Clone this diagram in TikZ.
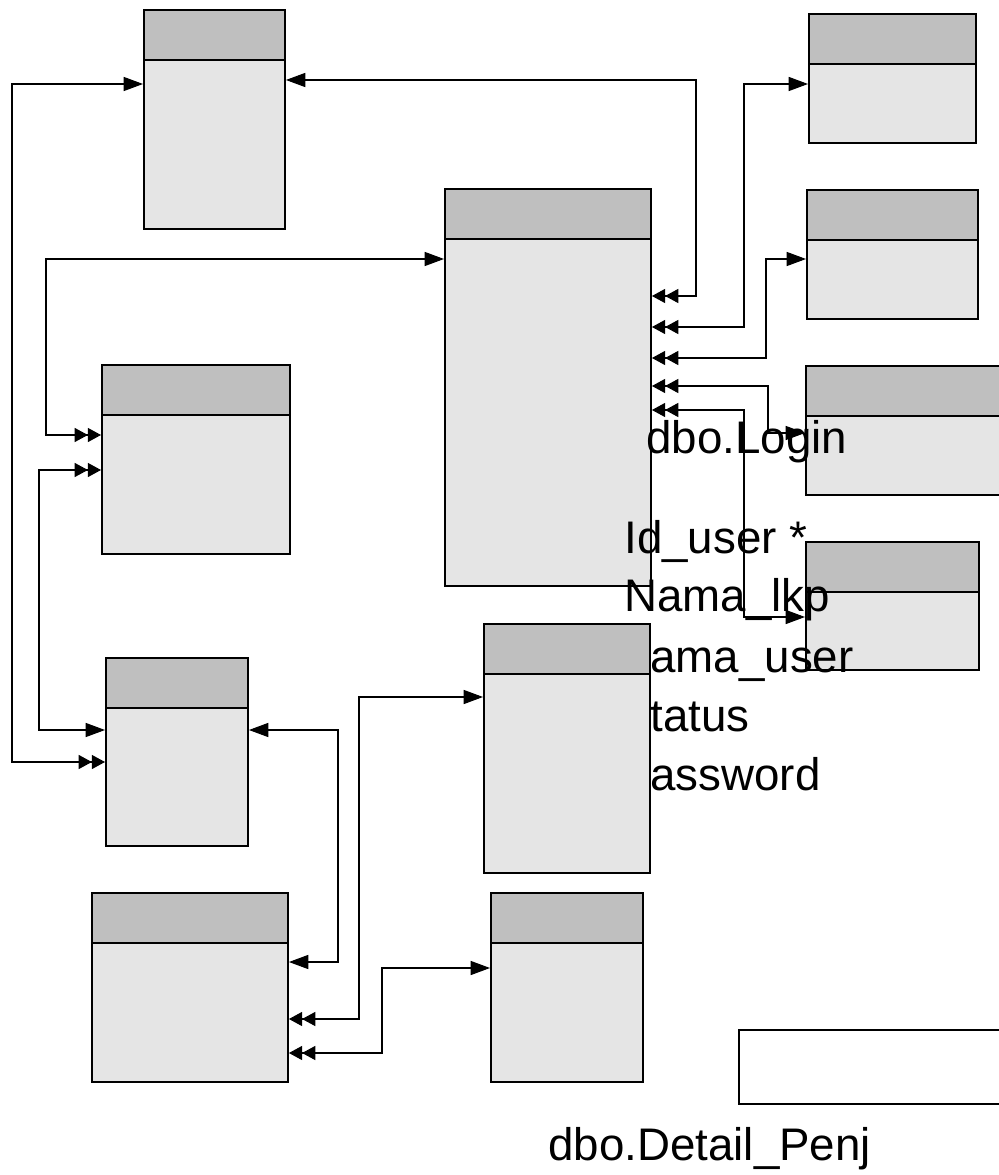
\documentclass[tikz,border=0pt]{standalone}
\usepackage{fontspec}
\setmainfont{Liberation Sans}
\usetikzlibrary{arrows.meta}
\definecolor{headgray}{gray}{0.75}
\definecolor{bodygray}{gray}{0.9}

\begin{document}
\begin{tikzpicture}[x=0.02cm,y=-0.02cm,
		entity/.style 2 args={draw,line width=1.1pt,fill=bodygray,anchor=north west,inner sep=0pt,
			minimum width=#1*0.02cm,minimum height=#2*0.02cm,
			path picture={
				\fill[headgray] (path picture bounding box.north west) rectangle ([yshift=-1cm]path picture bounding box.north east);
				\draw[line width=1.1pt] ([yshift=-1cm]path picture bounding box.north west) -- ([yshift=-1cm]path picture bounding box.north east);
			}},
		link/.style={line width=0.6pt},
		lbl/.style={anchor=base west,inner sep=0pt,font=\fontsize{26}{33}\selectfont},
		onetip/.tip={Triangle[length=11pt,width=8pt]},
		manytip/.tip={Triangle[length=7.5pt,width=8pt,sep=0pt] Triangle[length=7.5pt,width=8pt,sep=0pt]}
		]
		\useasboundingbox (0,0) rectangle (998,1175);
		%Draw tables
		\node[entity={141}{219}] (t1) at (143,9) {};
		\node[entity={206}{397}] (t2) at (444,188) {};
		\node[entity={167}{129}] (t3) at (808,13) {};
		\node[entity={171}{129}] (t4) at (806,189) {};
		\node[entity={220}{129}] (t5) at (805,365) {};
		\node[entity={173}{128}] (t6) at (805,541) {};
		\node[entity={188}{189}] (t7) at (101,364) {};
		\node[entity={142}{188}] (t8) at (105,657) {};
		\node[entity={166}{249}] (t9) at (483,623) {};
		\node[entity={196}{189}] (t10) at (91,892) {};
		\node[entity={152}{189}] (t11) at (490,892) {};
		\node[draw,line width=0.85pt,fill=white,anchor=north west,inner sep=0pt,
			minimum width=280*0.02cm,minimum height=74*0.02cm] (note) at (738,1029) {};
		
		%Draw links
		\draw[link,onetip-manytip] (t1.east |- 0,80) -| (696,296) -- (t2.east |- 0,296);
		\draw[link,manytip-onetip] (t2.east |- 0,327) -| (744,84) -- (t3.west |- 0,84);
		\draw[link,manytip-onetip] (t2.east |- 0,358) -| (766,259) -- (t4.west |- 0,259);
		\draw[link,manytip-onetip] (t2.east |- 0,386) -| (768,433) -- (t5.west |- 0,433);
		\draw[link,manytip-onetip] (t2.east |- 0,410) -| (744,617) -- (t6.west |- 0,617);
		\draw[link,manytip-onetip] (t8.west |- 0,762) -| (12,84) -- (t1.west |- 0,84);
		\draw[link,manytip-onetip] (t7.west |- 0,435) -| (46,259) -- (t2.west |- 0,259);
		\draw[link,manytip-onetip] (t7.west |- 0,470) -| (39,730) -- (t8.west |- 0,730);
		\draw[link,onetip-onetip] (t8.east |- 0,730) -| (338,962) -- (t10.east |- 0,962);
		\draw[link,manytip-onetip] (t10.east |- 0,1019) -| (359,697) -- (t9.west |- 0,697);
		\draw[link,manytip-onetip] (t10.east |- 0,1053) -| (382,968) -- (t11.west |- 0,968);
		
		%Draw labels
		\node[lbl] (login) at (646,453) {dbo.Login};
		\node[lbl] (iduser) at (624,553) {Id\_user *};
		\node[lbl] (namalkp) at (624,611) {Nama\_lkp};
		\node[lbl] (namauser) at (650,672) {ama\_user};
		\node[lbl] (status) at (650,731) {tatus};
		\node[lbl] (password) at (650,790) {assword};
		\node[lbl] (detail) at (548,1160) {dbo.Detail\_Penj};
	\end{tikzpicture}
\end{document}
